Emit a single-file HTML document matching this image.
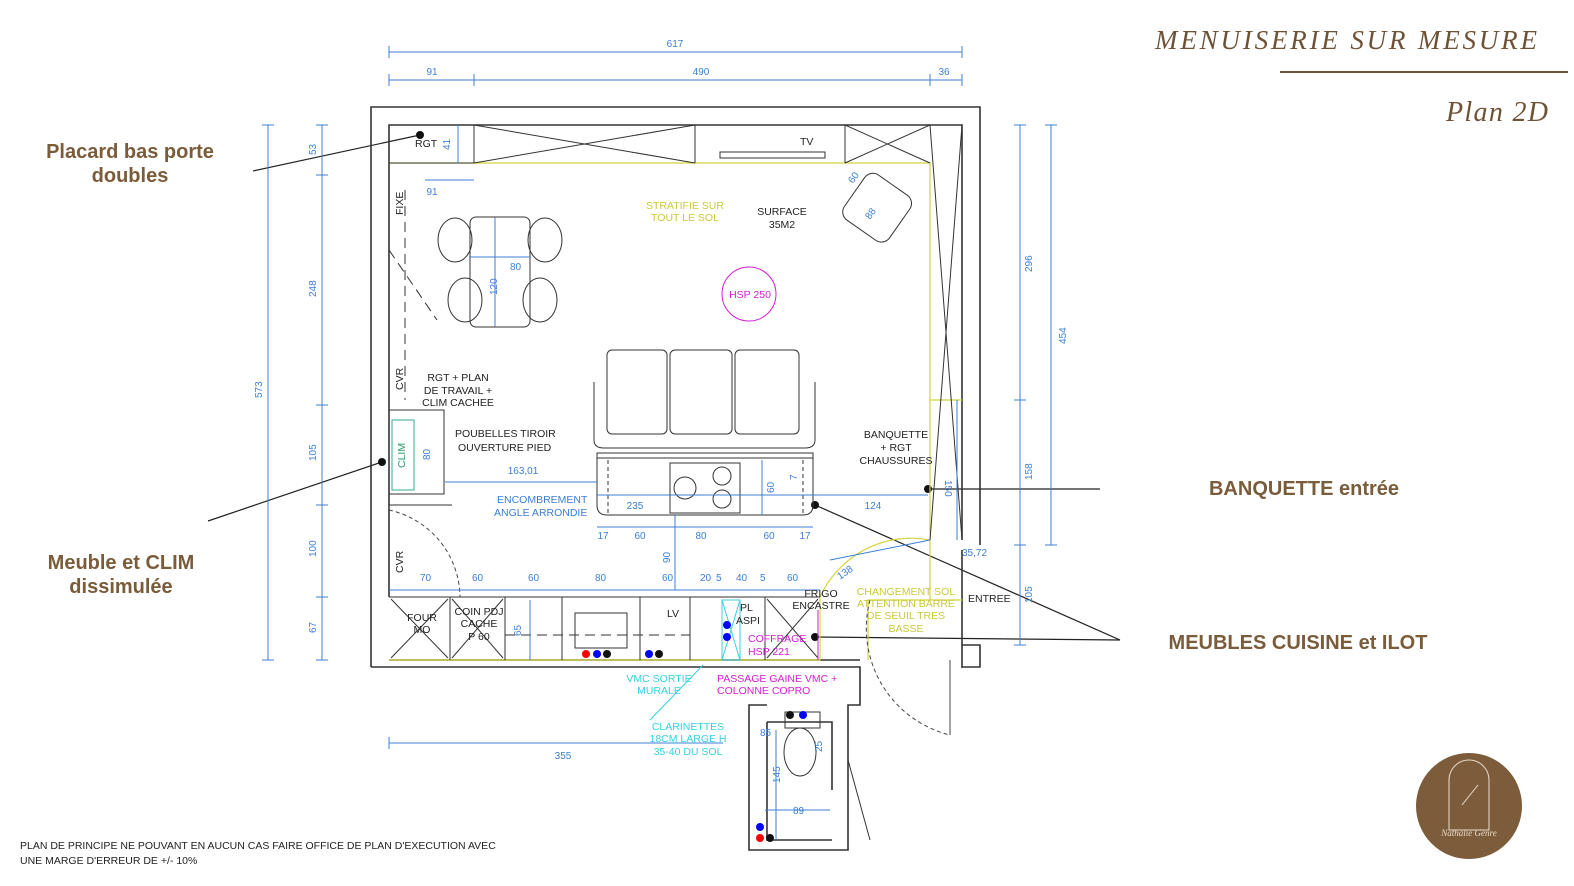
<!DOCTYPE html>
<html><head><meta charset="utf-8"><style>
html,body{margin:0;padding:0;background:#fff}
body{width:1574px;height:886px;overflow:hidden;position:relative;font-family:"Liberation Sans",sans-serif}
svg{position:absolute;left:0;top:0}
.b{fill:#3b7fd6;font-size:10px}
.k{fill:#222;font-size:10.5px}
.y{fill:#c9c93a;font-size:10.5px}
.m{fill:#d21ed2;font-size:10.5px}
.c{fill:#38cfe0;font-size:10.5px}
.lab{fill:#7a5c3a;font-weight:bold;font-size:20px}
</style></head><body>
<svg width="1574" height="886" viewBox="0 0 1574 886">
<text x="1155" y="49" font-family="Liberation Serif" font-style="italic" font-size="27" fill="#6e5236" letter-spacing="3" textLength="385">MENUISERIE SUR MESURE</text>
<line x1="1280" y1="72" x2="1568" y2="72" stroke="#6e5236" stroke-width="2"/>
<text x="1446" y="121" font-family="Liberation Serif" font-style="italic" font-size="28" fill="#6e5236" textLength="102">Plan 2D</text>

<text class="lab" x="130" y="158" text-anchor="middle">Placard bas porte</text>
<text class="lab" x="130" y="182" text-anchor="middle">doubles</text>
<text class="lab" x="121" y="569" text-anchor="middle">Meuble et CLIM</text>
<text class="lab" x="121" y="593" text-anchor="middle">dissimulée</text>
<text class="lab" x="1304" y="495" text-anchor="middle">BANQUETTE entrée</text>
<text class="lab" x="1298" y="649" text-anchor="middle">MEUBLES CUISINE et ILOT</text>
<g stroke="#222" stroke-width="1.2">
<line x1="253" y1="171" x2="420" y2="135"/><line x1="208" y1="521" x2="382" y2="462"/>
<line x1="928" y1="489" x2="1100" y2="489"/><line x1="815" y1="505" x2="1120" y2="640"/>
<line x1="815" y1="637" x2="1120" y2="640"/>
</g>
<g fill="#111"><circle cx="420" cy="135" r="4"/><circle cx="382" cy="462" r="4"/><circle cx="928" cy="489" r="4"/><circle cx="815" cy="505" r="4"/><circle cx="815" cy="637" r="4"/></g>

<g fill="none" stroke="#333" stroke-width="1.6">
<path d="M371 667 V107 H980 V545"/>
<path d="M389 597 V125 H962 V540"/>
<path d="M371 667 H860 V705 H848 V850 H749 V705 H767"/>
<path d="M389 660 H860"/>
<path d="M767 722 H832 V790"/>
<path d="M767 722 V840 H832"/>
<path d="M962 645 H980 V667 H962"/>
<path d="M962 550 V668"/>
</g>
<g fill="none" stroke="#d4d43a" stroke-width="1.2">
<path d="M389 163 H930 V600"/><path d="M930 400 H962"/><path d="M389 660 H820 V597"/>
<path d="M868 660 V600 H962"/><path d="M820 597 A100 100 0 0 1 930 540"/>
</g>
<path d="M870 600 A110 110 0 0 0 950 735" fill="none" stroke="#444" stroke-dasharray="4 3"/>
<line x1="950" y1="660" x2="950" y2="735" stroke="#444"/>
<path d="M389 510 A90 90 0 0 1 460 597" fill="none" stroke="#444" stroke-dasharray="4 3"/>

<g fill="none" stroke="#333" stroke-width="1">
<rect x="389" y="125" width="85" height="38"/>
<path d="M474 125 L695 163 M474 163 L695 125 M695 125 V163 M845 125 V163 M845 125 L930 163 M845 163 L930 125 M930 125 L962 540 M962 125 L930 540"/>
<rect x="720" y="152" width="105" height="6"/>
<line x1="405" y1="190" x2="405" y2="400" stroke-dasharray="10 6"/>
<line x1="389" y1="250" x2="437" y2="320" stroke-dasharray="10 6"/>
<rect x="389" y="410" width="55" height="84"/>
<rect x="392" y="420" width="22" height="70" stroke="#3a9"/>
<line x1="389" y1="505" x2="452" y2="505"/>
<rect x="470" y="217" width="60" height="110" rx="6"/>
<ellipse cx="455" cy="240" rx="17" ry="22"/><ellipse cx="545" cy="240" rx="17" ry="22"/>
<ellipse cx="465" cy="300" rx="17" ry="22"/><ellipse cx="540" cy="300" rx="17" ry="22"/>
<rect x="850" y="180" width="55" height="55" rx="10" transform="rotate(35 877 207)"/>
<path d="M594 382 V440 Q594 448 604 448 H805 Q815 448 815 440 V382"/>
<rect x="607" y="350" width="60" height="84" rx="5"/><rect x="670" y="350" width="62" height="84" rx="5"/><rect x="735" y="350" width="64" height="84" rx="5"/>
<path d="M597 453 H813 V505 Q813 515 803 515 H607 Q597 515 597 505 Z"/>
<line x1="597" y1="458" x2="813" y2="458"/>
<rect x="670" y="463" width="70" height="50"/>
<circle cx="685" cy="488" r="11"/><circle cx="722" cy="476" r="9"/><circle cx="722" cy="499" r="9"/>
<line x1="608" y1="460" x2="608" y2="515" stroke-dasharray="4 3"/><line x1="803" y1="460" x2="803" y2="515" stroke-dasharray="4 3"/>
<path d="M389 597 H820 M450 597 V660 M505 597 V660 M562 597 V660 M640 597 V660 M690 597 V660 M765 597 V660"/>
<path d="M391 599 L448 658 M448 599 L391 658 M452 599 L503 658 M503 599 L452 658 M767 599 L818 658 M818 599 L767 658"/>
<line x1="505" y1="635" x2="690" y2="635" stroke-dasharray="10 6"/>
<rect x="575" y="613" width="52" height="35"/>
<ellipse cx="800" cy="752" rx="16" ry="24"/><rect x="785" y="712" width="35" height="16"/>
<line x1="848" y1="760" x2="870" y2="840"/>
</g>
<path d="M722 600 H740 V660 H722 Z M722 600 L740 660 M740 600 L722 660" fill="none" stroke="#38cfe0"/>
<line x1="818" y1="610" x2="818" y2="660" stroke="#d21ed2"/>
<circle cx="749" cy="294" r="27" fill="none" stroke="#d21ed2"/>
<line x1="703" y1="665" x2="650" y2="720" stroke="#38cfe0"/>

<g><circle cx="586" cy="654" r="4" fill="red"/><circle cx="597" cy="654" r="4" fill="#00f"/><circle cx="607" cy="654" r="4" fill="#111"/>
<circle cx="649" cy="654" r="4" fill="#00f"/><circle cx="659" cy="654" r="4" fill="#111"/>
<circle cx="727" cy="625" r="4" fill="#00f"/><circle cx="727" cy="637" r="4" fill="#00f"/>
<circle cx="790" cy="715" r="4" fill="#111"/><circle cx="803" cy="715" r="4" fill="#00f"/>
<circle cx="760" cy="827" r="4" fill="#00f"/><circle cx="760" cy="838" r="4" fill="red"/><circle cx="770" cy="838" r="4" fill="#111"/></g>

<g stroke="#3b7fd6" stroke-width="1" fill="none">
<line x1="389" y1="52" x2="962" y2="52"/><line x1="389" y1="80" x2="962" y2="80"/>
<path d="M389 46 V58 M962 46 V58 M389 74 V86 M474 74 V86 M930 74 V86 M962 74 V86"/>
<line x1="268" y1="125" x2="268" y2="660"/><line x1="322" y1="125" x2="322" y2="660"/>
<path d="M262 125 H274 M262 660 H274 M316 125 H328 M316 175 H328 M316 405 H328 M316 505 H328 M316 597 H328 M316 660 H328"/>
<line x1="1020" y1="125" x2="1020" y2="645"/><line x1="1051" y1="125" x2="1051" y2="545"/>
<path d="M1014 125 H1026 M1014 400 H1026 M1014 545 H1026 M1014 645 H1026 M1045 125 H1057 M1045 545 H1057"/>
<line x1="389" y1="590" x2="820" y2="590"/>
<line x1="389" y1="743" x2="723" y2="743"/><line x1="389" y1="737" x2="389" y2="749"/>
<line x1="445" y1="482" x2="597" y2="482"/><line x1="597" y1="495" x2="928" y2="495"/>
<line x1="597" y1="527" x2="813" y2="527"/>
<line x1="762" y1="460" x2="762" y2="515"/><line x1="675" y1="515" x2="675" y2="590"/>
<line x1="495" y1="217" x2="495" y2="327"/><line x1="470" y1="257" x2="530" y2="257"/>
<line x1="957" y1="400" x2="957" y2="540"/><line x1="530" y1="600" x2="530" y2="660"/>
<line x1="425" y1="180" x2="474" y2="180"/><line x1="458" y1="125" x2="458" y2="163"/>
<line x1="776" y1="730" x2="776" y2="840"/><line x1="765" y1="810" x2="830" y2="810"/>
<line x1="830" y1="560" x2="930" y2="540"/>
</g>
<g class="b">
<text x="675" y="47" text-anchor="middle">617</text><text x="432" y="75" text-anchor="middle">91</text><text x="701" y="75" text-anchor="middle">490</text><text x="944" y="75" text-anchor="middle">36</text>
<text x="432" y="195" text-anchor="middle">91</text><text x="510" y="270">80</text><text x="497" y="295" transform="rotate(-90 497 295)">120</text>
<text x="523" y="474" text-anchor="middle">163,01</text><text x="635" y="509" text-anchor="middle">235</text><text x="873" y="509" text-anchor="middle">124</text>
<text x="603" y="539" text-anchor="middle">17</text><text x="640" y="539" text-anchor="middle">60</text><text x="701" y="539" text-anchor="middle">80</text><text x="769" y="539" text-anchor="middle">60</text><text x="805" y="539" text-anchor="middle">17</text>
<text x="420" y="581">70</text><text x="472" y="581">60</text><text x="528" y="581">60</text><text x="595" y="581">80</text><text x="662" y="581">60</text><text x="700" y="581">20</text><text x="716" y="581">5</text><text x="736" y="581">40</text><text x="760" y="581">5</text><text x="787" y="581">60</text>
<text x="563" y="759" text-anchor="middle">355</text><text x="962" y="556">35,72</text>
<text x="760" y="736">85</text><text x="793" y="814">89</text>
</g>
<g class="b" font-size="10">
<text transform="translate(316 155) rotate(-90)">53</text><text transform="translate(316 297) rotate(-90)">248</text><text transform="translate(316 461) rotate(-90)">105</text><text transform="translate(316 557) rotate(-90)">100</text><text transform="translate(316 633) rotate(-90)">67</text>
<text transform="translate(262 398) rotate(-90)">573</text><text transform="translate(1032 272) rotate(-90)">296</text><text transform="translate(1032 480) rotate(-90)">158</text><text transform="translate(1032 603) rotate(-90)">105</text><text transform="translate(1066 344) rotate(-90)">454</text>
<text transform="translate(774 493) rotate(-90)">60</text><text transform="translate(797 480) rotate(-90)">7</text><text transform="translate(670 563) rotate(-90)">90</text><text transform="translate(521 636) rotate(-90)">65</text>
<text transform="translate(450 150) rotate(-90)">41</text><text transform="translate(945 480) rotate(90)">150</text><text transform="translate(780 783) rotate(-90)">145</text><text transform="translate(822 752) rotate(-90)">25</text>
<text transform="translate(840 580) rotate(-35)">138</text><text transform="translate(853 184) rotate(-55)">60</text><text transform="translate(870 220) rotate(-55)">88</text>
<text transform="translate(430 460) rotate(-90)">80</text>
</g>
<g class="k">
<text x="415" y="147">RGT</text><text x="800" y="145">TV</text>
<text transform="translate(403 215) rotate(-90)">FIXE</text><text transform="translate(403 390) rotate(-90)">CVR</text><text transform="translate(403 573) rotate(-90)">CVR</text>
<text x="782" y="215" text-anchor="middle">SURFACE</text><text x="782" y="228" text-anchor="middle">35M2</text>
<text x="458" y="381" text-anchor="middle">RGT + PLAN</text><text x="458" y="394" text-anchor="middle">DE TRAVAIL +</text><text x="458" y="406" text-anchor="middle">CLIM CACHEE</text>
<text x="455" y="437">POUBELLES TIROIR</text><text x="458" y="451">OUVERTURE PIED</text>
<text x="896" y="438" text-anchor="middle">BANQUETTE</text><text x="896" y="451" text-anchor="middle">+ RGT</text><text x="896" y="464" text-anchor="middle">CHAUSSURES</text>
<text x="968" y="602">ENTREE</text>
<text x="422" y="621" text-anchor="middle">FOUR</text><text x="422" y="633" text-anchor="middle">MO</text>
<text x="479" y="615" text-anchor="middle">COIN PDJ</text><text x="479" y="627" text-anchor="middle">CACHE</text><text x="479" y="640" text-anchor="middle">P 60</text>
<text x="667" y="617">LV</text><text x="740" y="611">PL</text><text x="736" y="624">ASPI</text>
<text x="821" y="597" text-anchor="middle">FRIGO</text><text x="821" y="609" text-anchor="middle">ENCASTRE</text>
<text x="20" y="849" font-size="10.5">PLAN DE PRINCIPE NE POUVANT EN AUCUN CAS FAIRE OFFICE DE PLAN D'EXECUTION AVEC</text>
<text x="20" y="864" font-size="10.5">UNE MARGE D'ERREUR DE +/- 10%</text>
</g>
<text transform="translate(405 468) rotate(-90)" fill="#2a9a6a" font-size="10.5">CLIM</text>
<g class="y"><text x="685" y="209" text-anchor="middle">STRATIFIE SUR</text><text x="685" y="221" text-anchor="middle">TOUT LE SOL</text>
<text x="906" y="595" text-anchor="middle">CHANGEMENT SOL</text><text x="906" y="607" text-anchor="middle">ATTENTION BARRE</text><text x="906" y="619" text-anchor="middle">DE SEUIL TRES</text><text x="906" y="632" text-anchor="middle">BASSE</text></g>
<g class="m"><text x="750" y="298" text-anchor="middle">HSP 250</text><text x="748" y="642">COFFRAGE</text><text x="748" y="655">HSP 221</text>
<text x="717" y="682">PASSAGE GAINE VMC +</text><text x="717" y="694">COLONNE COPRO</text></g>
<g class="c"><text x="659" y="682" text-anchor="middle">VMC SORTIE</text><text x="659" y="694" text-anchor="middle">MURALE</text>
<text x="688" y="730" text-anchor="middle">CLARINETTES</text><text x="688" y="742" text-anchor="middle">18CM LARGE H</text><text x="688" y="755" text-anchor="middle">35-40 DU SOL</text>
<text x="497" y="503" fill="#3b7fd6">ENCOMBREMENT</text><text x="494" y="516" fill="#3b7fd6">ANGLE ARRONDIE</text></g>
<circle cx="1469" cy="806" r="53" fill="#7d5c3c"/>
<path d="M1449 830 V780 A20 20 0 0 1 1489 780 V830 Z" fill="none" stroke="#e9dccb" stroke-width="1"/>
<path d="M1462 805 Q1470 795 1478 785" stroke="#e9dccb" fill="none"/>
<text x="1469" y="836" text-anchor="middle" font-family="Liberation Serif" font-style="italic" font-size="9" fill="#e9dccb">Nathalie Genre</text>
</svg>
</body></html>
